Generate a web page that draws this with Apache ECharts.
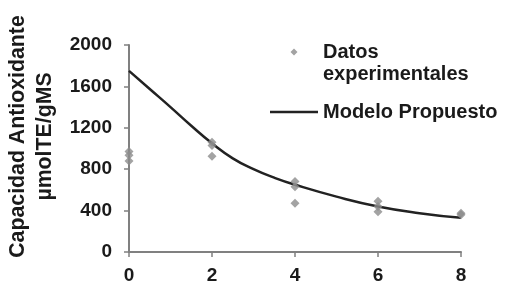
<!DOCTYPE html>
<html>
<head>
<meta charset="utf-8">
<script src="https://cdn.jsdelivr.net/npm/echarts@6/dist/echarts.min.js"></script>
<style>html,body{margin:0;padding:0;background:#fff;}#c{width:511px;height:291px;}</style>
</head>
<body>
<div id="c"></div>
<script>
var xTicks = [0, 2, 4, 6, 8];
var yTicks = [0, 400, 800, 1200, 1600, 2000];
var expX = [0, 0, 0, 2, 2, 2, 4, 4, 4, 6, 6, 6, 8, 8];
var expY = [970, 935, 880, 1060, 1030, 925, 680, 630, 470, 490, 440, 390, 375, 360];
var modelX = [0, 0.5, 1, 1.5, 2, 2.5, 3, 3.5, 4, 5, 6, 7, 8];
var modelY = [1750, 1575, 1400, 1220, 1050, 905, 800, 718, 650, 535, 440, 375, 330];
var seriesNames = ['Datos experimentales', 'Modelo Propuesto'];
var yTitle = 'Capacidad Antioxidante\nµmolTE/gMS';

var FONT = '"Liberation Sans", Arial, sans-serif';
var chart = echarts.init(document.getElementById('c'));
chart.setOption({
  animation: false,
  backgroundColor: '#ffffff',
  grid: {left: 129, right: 50, top: 45, bottom: 39, containLabel: false, outerBoundsMode: 'none'},
  legend: [{
    data: [{name: seriesNames[0], icon: 'path://M0,0L0.01,0L0,0.01Z M48,7L47.99,7L48,6.99Z M24,0L27.5,3.5L24,7L20.5,3.5Z'}],
    left: 270, top: 19, padding: 0,
    itemWidth: 48, itemHeight: 7,
    formatter: function () { return ' \nDatos\nexperimentales'; },
    textStyle: {fontFamily: FONT, fontWeight: 'bold', fontSize: 20, color: '#1a1a1a', lineHeight: 22}
  }, {
    data: [{name: seriesNames[1], icon: 'rect'}],
    left: 270, top: 101, padding: 0,
    itemWidth: 48, itemHeight: 2.5,
    textStyle: {fontFamily: FONT, fontWeight: 'bold', fontSize: 20, color: '#1a1a1a', lineHeight: 22}
  }],
  xAxis: {
    type: 'value', min: xTicks[0], max: xTicks[xTicks.length - 1], interval: 2,
    axisLine: {show: true, lineStyle: {color: '#808080', width: 2}},
    axisTick: {show: true, length: 5, lineStyle: {color: '#808080', width: 1.5}},
    splitLine: {show: false},
    axisLabel: {margin: 14, fontFamily: FONT, fontWeight: 'bold', fontSize: 19, color: '#1a1a1a'}
  },
  yAxis: {
    type: 'value', min: yTicks[0], max: yTicks[yTicks.length - 1], interval: 400,
    name: yTitle, nameLocation: 'middle', nameGap: 69, nameRotate: 90,
    nameTextStyle: {fontFamily: FONT, fontWeight: 'bold', fontSize: 21.3, color: '#1a1a1a', lineHeight: 27, align: 'center', padding: [0, 0, 0, 24]},
    axisLine: {show: true, lineStyle: {color: '#808080', width: 2}},
    axisTick: {show: true, length: 5, lineStyle: {color: '#808080', width: 1.5}},
    splitLine: {show: false},
    axisLabel: {margin: 17, fontFamily: FONT, fontWeight: 'bold', fontSize: 19, color: '#1a1a1a',
      formatter: function (v) { return String(v); }}
  },
  series: [{
    name: seriesNames[0], type: 'scatter', symbol: 'diamond', symbolSize: 9,
    itemStyle: {color: '#8c8c8c'},
    data: expX.map(function (x, i) { return [x, expY[i]]; }),
    z: 3
  }, {
    name: seriesNames[1], type: 'line', smooth: true, symbol: 'none',
    lineStyle: {color: '#222222', width: 2.5},
    itemStyle: {color: '#222222'},
    data: modelX.map(function (x, i) { return [x, modelY[i]]; }),
    z: 2
  }]
});
</script>
</body>
</html>
